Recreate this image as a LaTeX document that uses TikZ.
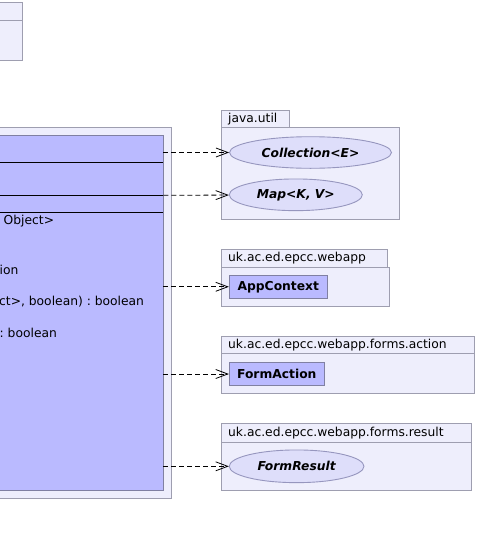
\documentclass[tikz,border=0pt]{standalone}
\usepackage{fontspec}
\setmainfont{DejaVu Sans}
\usetikzlibrary{arrows.meta, shapes.geometric}
\frenchspacing

\definecolor{pkgfill}{RGB}{238,238,252}
\definecolor{pkgline}{RGB}{158,158,176}
\definecolor{clsfill}{RGB}{186,186,255}
\definecolor{clsline}{RGB}{128,128,162}
\definecolor{ifcfill}{RGB}{222,222,250}
\definecolor{ifcline}{RGB}{150,150,190}

\begin{document}
\begin{tikzpicture}[x=1pt, y=-1pt,
    font=\fontsize{12.3}{14}\selectfont,
    pkg/.style={draw=pkgline, fill=pkgfill, line width=0.9pt},
    cls/.style={draw=clsline, fill=clsfill, line width=0.9pt},
    ifc/.style={ellipse, draw=ifcline, fill=ifcfill, line width=0.9pt, inner sep=0pt, font=\fontsize{12.3}{14}\selectfont\bfseries\itshape},
    box/.style={rectangle, draw=clsline, fill=clsfill, line width=0.9pt, inner sep=0pt, font=\fontsize{12.3}{14}\selectfont\bfseries},
    label/.style={anchor=west, inner sep=0pt},
    dep/.style={dash pattern=on 5pt off 3pt, line width=0.8pt, -{Straight Barb[length=12pt, width=9pt, line width=0.8pt]}}]
    \useasboundingbox (0,0) rectangle (477,536);

    % Box at the top left
    \draw[pkg] (-2,2.7) rectangle (22.7,60.3);
    \draw[pkgline, line width=0.9pt] (-2,20.3) -- (22.7,20.3);

    % Package round the class
    \draw[pkg] (-2,127.3) rectangle (171.3,498.3);
    \draw[cls] (-2,135.3) rectangle (163.3,490.7);
    \foreach \y in {162.3, 195.7, 212.3}
        \draw[line width=0.8pt] (-2,\y) -- (163.3,\y);
    \node[label] (obj) at (3.5,221.5) {Object>};
    \node[label] (ion) at (-0.5,269.5) {ion};
    \node[label] (bool1) at (-1,302) {ct>, boolean) : boolean};
    \node[label] (bool2) at (-0.5,332.5) {: boolean};
    \coordinate (d1) at (163.3,152.5);
    \coordinate (d2) at (163.3,195.3);
    \coordinate (d3) at (163.3,286.8);
    \coordinate (d4) at (163.3,374);
    \coordinate (d5) at (163.3,466.3);

    % java.util
    \draw[pkg] (221.3,110.7) rectangle (289.3,127.7);
    \draw[pkg] (221.3,127.7) rectangle (399.3,219);
    \node[label] (util) at (228,119.5) {java.util};
    \node[ifc, minimum width=162, minimum height=31.6] (coll) at (310.5,152.5) {Collection<E>};
    \node[ifc, minimum width=133, minimum height=31.7] (map) at (295.8,194.8) {Map<K, V>};

    % uk.ac.ed.epcc.webapp
    \draw[pkg] (221.3,249.3) rectangle (387.7,267.7);
    \draw[pkg] (221.3,267.7) rectangle (389.3,306);
    \node[label] (webapp) at (228,258.5) {uk.ac.ed.epcc.webapp};
    \node[box, minimum width=98, minimum height=23.7] (appctx) at (278.3,286.8) {AppContext};

    % uk.ac.ed.epcc.webapp.forms.action
    \draw[pkg] (221.3,336.7) rectangle (474,353.3);
    \draw[pkg] (221.3,353.3) rectangle (474,393.3);
    \node[label] (action) at (228,345) {uk.ac.ed.epcc.webapp.forms.action};
    \node[box, minimum width=95, minimum height=23.4] (formact) at (276.8,374) {FormAction};

    % uk.ac.ed.epcc.webapp.forms.result
    \draw[pkg] (221.3,423.3) rectangle (471.7,442);
    \draw[pkg] (221.3,442) rectangle (471.7,490);
    \node[label] (result) at (228,432.7) {uk.ac.ed.epcc.webapp.forms.result};
    \node[ifc, minimum width=134.7, minimum height=32.7] (formres) at (296.6,466.3) {FormResult};

    % Dependencies
    \draw[dep] (d1) -- (coll);
    \draw[dep] (d2) -- (map);
    \draw[dep] (d3) -- (appctx);
    \draw[dep] (d4) -- (formact);
    \draw[dep] (d5) -- (formres);
\end{tikzpicture}
\end{document}
